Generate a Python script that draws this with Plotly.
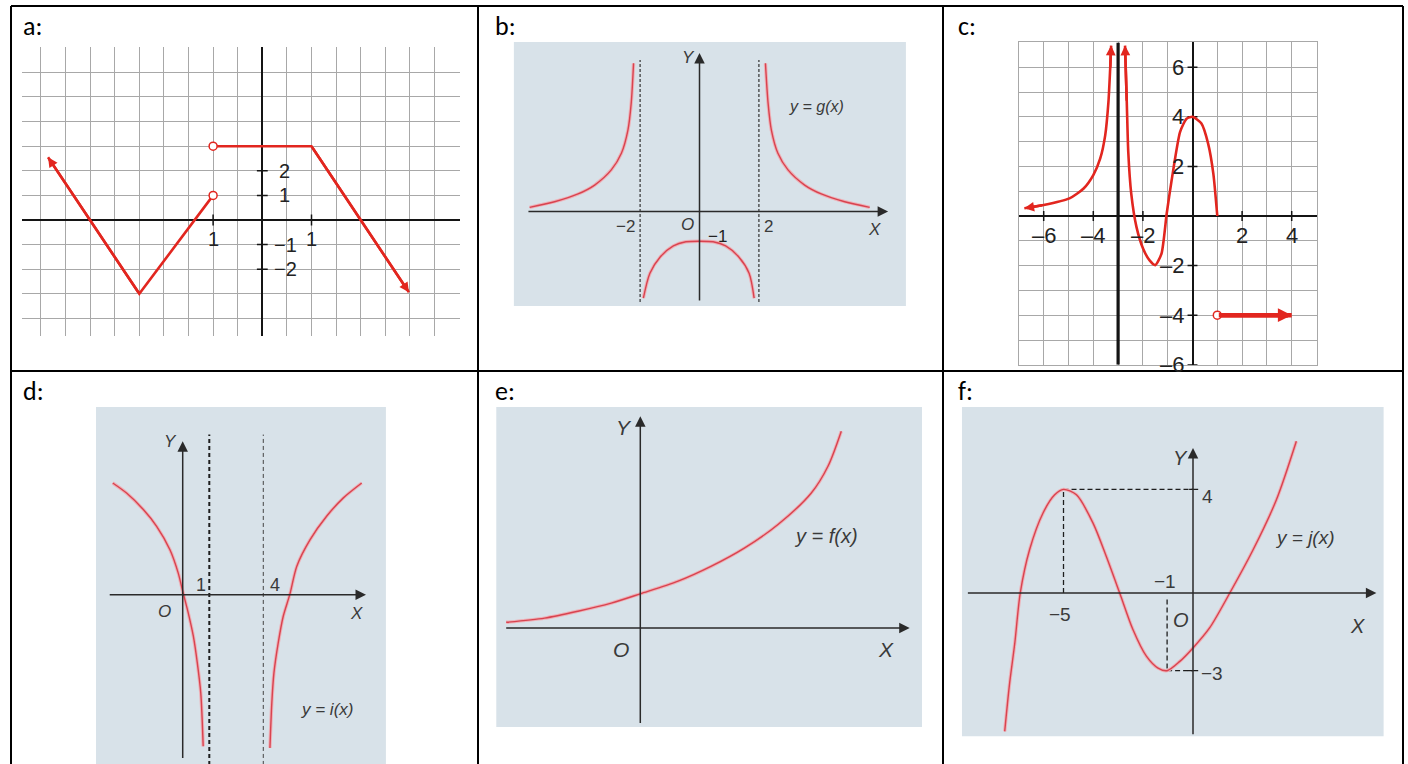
import plotly.graph_objects as go

W, H = 1408, 764

RED = "#e2261f"
CURVE = "#d8434f"
GLOW = "#eeb0b7"
INK = "#222222"
SOFT_INK = "#3a3a3a"
PANEL_BG = "#d8e2e9"
GRID = "#a8a8a8"

# ---------------- data ----------------
# a: piecewise linear, jump at x = -2
A_LEFT_X = [-8.71, -5, -2]
A_LEFT_Y = [2.55, -3, 1]
A_RIGHT_X = [-2, 2, 5.96]
A_RIGHT_Y = [3, 3, -2.94]
A_OPEN_X = [-2, -2]
A_OPEN_Y = [1, 3]
A_XTICKS = [-2, 2]
A_XTICK_TEXT = ["1", "1"]
A_YTICKS = [2, 1, -1, -2]
A_YTICK_TEXT = ["2", "1", "−1", "−2"]

# b: y = g(x)
B_LEFT_X = [-5.72, -4.88, -4.09, -3.53, -2.97, -2.63, -2.41, -2.30, -2.22]
B_LEFT_Y = [0.14, 0.33, 0.59, 0.89, 1.40, 1.96, 2.74, 3.64, 4.99]
B_MID_X = [-1.89, -1.67, -1.33, -0.88, -0.46, 0, 0.46, 0.88, 1.33, 1.67, 1.84]
B_MID_Y = [-2.92, -2.08, -1.54, -1.16, -1.02, -1.0, -1.02, -1.16, -1.54, -2.08, -2.92]
B_RIGHT_X = [2.22, 2.31, 2.42, 2.64, 2.98, 3.54, 4.10, 4.89, 5.73]
B_RIGHT_Y = [4.99, 3.64, 2.74, 1.96, 1.40, 0.89, 0.59, 0.33, 0.14]
B_ASYMPTOTES = [-2, 2]

# c: grid graph with a vertical asymptote at x = -3
C_LEFT_X = [-6.78, -6.0, -4.96, -4.39, -4.0, -3.72, -3.52, -3.39, -3.32, -3.28]
C_LEFT_Y = [0.31, 0.44, 0.71, 1.11, 1.65, 2.32, 3.25, 4.59, 5.93, 6.87]
C_MID_X = [-2.72, -2.65, -2.59, -2.47, -2.26, -1.99, -1.73, -1.5, -1.25, -1.04,
           -0.84, -0.5, -0.24, 0, 0.36, 0.63, 0.84, 1.0]
C_MID_Y = [6.87, 4.59, 2.58, 0.9, -0.44, -1.32, -1.79, -1.98, -1.52, 0.1,
           1.45, 3.39, 3.92, 4.0, 3.73, 2.92, 1.71, 0.0]
C_RAY_X = [1, 4]
C_RAY_Y = [-4, -4]
C_ASYMPTOTE = -3
C_XTICKS = [-6, -4, -2, 2, 4]
C_XTICK_TEXT = ["–6", "–4", "–2", "2", "4"]
C_YTICKS = [6, 4, 2, -2, -4, -6]
C_YTICK_TEXT = ["6", "4", "2", "–2", "–4", "–6"]

# d: y = i(x)
D_LEFT_X = [-2.63, -2.11, -1.48, -0.98, -0.48, -0.17, 0.0, 0.21, 0.40, 0.55, 0.68, 0.77]
D_LEFT_Y = [4.20, 3.82, 3.20, 2.57, 1.69, 0.82, 0.13, -0.69, -1.56, -2.57, -3.70, -5.70]
D_RIGHT_X = [6.73, 6.04, 5.41, 4.79, 4.29, 4.03, 3.78, 3.59, 3.43, 3.35, 3.28]
D_RIGHT_Y = [4.20, 3.64, 2.95, 2.07, 1.07, 0.02, -0.81, -1.82, -2.94, -4.07, -5.76]
D_ASYMPTOTES = [1, 3.03]
D_ASYMPTOTE_TEXT = ["1", "4"]

# e: y = f(x)
E_X = [-4.47, -3.19, -2.08, -0.97, 0, 1.26, 2.37, 3.48, 4.59, 5.7, 6.26, 6.7]
E_Y = [0.19, 0.33, 0.56, 0.83, 1.14, 1.56, 2.06, 2.67, 3.45, 4.5, 5.4, 6.56]

# f: y = j(x)
F_X = [-7.27, -7.08, -6.88, -6.67, -6.31, -5.79, -5.34, -5.0, -4.5, -3.86, -3.35, -2.83,
       -2.32, -1.80, -1.35, -1.0, -0.51, 0, 0.64, 1.42, 2.32, 3.22, 3.99]
F_Y = [-5.34, -3.48, -1.93, 0, 1.67, 3.09, 3.79, 4.0, 3.79, 2.70, 1.42, 0,
       -1.41, -2.44, -2.90, -3.0, -2.64, -2.12, -1.35, 0, 1.67, 3.60, 5.86]
F_MAX = (-5, 4)
F_MIN = (-1, -3)

# ---------------- panel geometry (pixels) ----------------
PANELS = {
    "a": dict(n=1, origin=(262.3, 220.0), unit=24.6, xr=(-9.76, 8.04), yr=(-4.72, 7.04)),
    "b": dict(n=2, origin=(699.5, 211.5), unit=29.7, xr=(-6.25, 6.95), yr=(-3.18, 5.71)),
    "c": dict(n=3, origin=(1192.5, 216.0), unit=24.8, xr=(-7, 5), yr=(-6, 7)),
    "d": dict(n=4, origin=(182.7, 594.7), unit=26.6, xr=(-3.26, 7.64), yr=(-6.36, 7.06)),
    "e": dict(n=5, origin=(640.3, 628.0), unit=30.0, xr=(-4.8, 9.39), yr=(-3.3, 7.37)),
    "f": dict(n=6, origin=(1193.0, 593.0), unit=25.9, xr=(-8.92, 7.36), yr=(-5.53, 7.18)),
}


def refs(key):
    n = PANELS[key]["n"]
    s = "" if n == 1 else str(n)
    return "x" + s, "y" + s


fig = go.Figure()
layout = dict(
    width=W, height=H, margin=dict(l=0, r=0, t=0, b=0),
    paper_bgcolor="white", plot_bgcolor="white", showlegend=False,
    shapes=[], annotations=[],
)

for key, p in PANELS.items():
    ox, oy = p["origin"]
    u = p["unit"]
    dx = [(ox + p["xr"][0] * u) / W, (ox + p["xr"][1] * u) / W]
    dy = [1 - (oy - p["yr"][0] * u) / H, 1 - (oy - p["yr"][1] * u) / H]
    xr, yr = refs(key)
    xname = "xaxis" + xr[1:]
    yname = "yaxis" + yr[1:]
    common = dict(fixedrange=True, showticklabels=False, ticks="")
    if key in ("a", "c"):
        grid = dict(showgrid=True, gridcolor=GRID, gridwidth=1, dtick=1, tick0=0,
                    zeroline=True, zerolinecolor="#141414", zerolinewidth=2.2,
                    showline=(key == "c"), mirror=True, linecolor=GRID, linewidth=1)
        layout[xname] = dict(domain=dx, range=list(p["xr"]), anchor=yr, **grid, **common)
        layout[yname] = dict(domain=dy, range=list(p["yr"]), anchor=xr, **grid, **common)
    else:
        layout[xname] = dict(domain=dx, range=list(p["xr"]), anchor=yr, visible=False, **common)
        layout[yname] = dict(domain=dy, range=list(p["yr"]), anchor=xr, visible=False, **common)
        layout["shapes"].append(dict(type="rect", xref=xr + " domain", yref=yr + " domain",
                                     x0=0, x1=1, y0=0, y1=1, fillcolor=PANEL_BG,
                                     line=dict(width=0), layer="below"))


def line_trace(key, xs, ys, color, width, shape="linear", smoothing=0.6):
    xr, yr = refs(key)
    fig.add_trace(go.Scatter(x=xs, y=ys, mode="lines", xaxis=xr, yaxis=yr,
                             line=dict(color=color, width=width, shape=shape, smoothing=smoothing),
                             hoverinfo="skip"))


def soft_curve(key, xs, ys, smoothing=0.8):
    line_trace(key, xs, ys, GLOW, 3.4, "spline", smoothing)
    line_trace(key, xs, ys, CURVE, 1.4, "spline", smoothing)


def arrow(key, tip, tail, color, width, size):
    xr, yr = refs(key)
    layout["annotations"].append(dict(
        x=tip[0], y=tip[1], ax=tail[0], ay=tail[1], xref=xr, yref=yr, axref=xr, ayref=yr,
        text="", showarrow=True, arrowhead=2, arrowsize=size, arrowwidth=width,
        arrowcolor=color, standoff=0, startstandoff=0))


def label(key, x, y, s, size, italic=False, xanchor="center", color=INK):
    xr, yr = refs(key)
    layout["annotations"].append(dict(
        x=x, y=y, xref=xr, yref=yr, text=f"<i>{s}</i>" if italic else s, showarrow=False,
        xanchor=xanchor, yanchor="middle",
        font=dict(family="Liberation Sans, Arial", size=size, color=color)))


def seg(key, x0, y0, x1, y1, color, width, dash=None):
    xr, yr = refs(key)
    layout["shapes"].append(dict(type="line", xref=xr, yref=yr, x0=x0, y0=y0, x1=x1, y1=y1,
                                 line=dict(color=color, width=width, dash=dash), layer="between"))


def axes_with_arrows(key, xspan, yspan):
    arrow(key, (xspan[1], 0), (xspan[0], 0), "#2a2a2a", 1.5, 1.4)
    arrow(key, (0, yspan[1]), (0, yspan[0]), "#2a2a2a", 1.5, 1.4)


# ---------- a ----------
for t in A_YTICKS:
    seg("a", -0.22, t, 0.22, t, "#141414", 1.5)
for t in A_XTICKS:
    seg("a", t, -0.22, t, 0.22, "#141414", 1.5)
line_trace("a", A_LEFT_X, A_LEFT_Y, RED, 2.6)
line_trace("a", A_RIGHT_X, A_RIGHT_Y, RED, 2.6)
arrow("a", (A_LEFT_X[0], A_LEFT_Y[0]), (A_LEFT_X[1], A_LEFT_Y[1]), RED, 2.6, 0.75)
arrow("a", (A_RIGHT_X[-1], A_RIGHT_Y[-1]), (A_RIGHT_X[-2], A_RIGHT_Y[-2]), RED, 2.6, 0.75)
fig.add_trace(go.Scatter(x=A_OPEN_X, y=A_OPEN_Y, mode="markers", xaxis="x", yaxis="y",
                         marker=dict(size=8, color="white", line=dict(color=RED, width=1.5)),
                         hoverinfo="skip"))
for t, s in zip(A_XTICKS, A_XTICK_TEXT):
    label("a", t, -0.78, s, 20)
for t, s in zip(A_YTICKS, A_YTICK_TEXT):
    label("a", 0.4 if t < 0 else 0.58, t, s, 20, xanchor="left")

# ---------- b ----------
for xa in B_ASYMPTOTES:
    seg("b", xa, -3.05, xa, 5.1, "#333333", 1.2, dash="3px,2px")
axes_with_arrows("b", (-5.81, 6.35), (-3.05, 5.34))
soft_curve("b", B_LEFT_X, B_LEFT_Y)
soft_curve("b", B_MID_X, B_MID_Y)
soft_curve("b", B_RIGHT_X, B_RIGHT_Y)
label("b", -0.38, 5.2, "Y", 17, True, color=SOFT_INK)
label("b", -0.41, -0.45, "O", 17, True, color=SOFT_INK)
label("b", 5.9, -0.62, "X", 17, True, color=SOFT_INK)
label("b", -2.5, -0.5, "−2", 17, color=SOFT_INK)
label("b", 2.34, -0.49, "2", 17, color=SOFT_INK)
label("b", 0.6, -0.84, "−1", 17, color=INK)
label("b", 3.93, 3.53, "y = g(x)", 16, True, color=SOFT_INK)

# ---------- c ----------
seg("c", C_ASYMPTOTE, -6, C_ASYMPTOTE, 7, "#141414", 3.2)
for t in C_XTICKS:
    seg("c", t, -0.2, t, 0.2, "#141414", 1.5)
for t in C_YTICKS:
    seg("c", -0.2, t, 0.2, t, "#141414", 1.5)
line_trace("c", C_LEFT_X, C_LEFT_Y, RED, 2.6, "spline")
line_trace("c", C_MID_X, C_MID_Y, RED, 2.6, "spline")
arrow("c", (C_LEFT_X[0], C_LEFT_Y[0]), (C_LEFT_X[1], C_LEFT_Y[1]), RED, 2.6, 0.75)
arrow("c", (C_LEFT_X[-1], C_LEFT_Y[-1]), (C_LEFT_X[-2], C_LEFT_Y[-2]), RED, 2.6, 0.75)
arrow("c", (C_MID_X[0], C_MID_Y[0]), (C_MID_X[1], C_MID_Y[1]), RED, 2.6, 0.75)
line_trace("c", C_RAY_X, C_RAY_Y, RED, 4.6)
arrow("c", (C_RAY_X[1], C_RAY_Y[1]), (C_RAY_X[0], C_RAY_Y[0]), RED, 4.6, 0.6)
fig.add_trace(go.Scatter(x=C_RAY_X[:1], y=C_RAY_Y[:1], mode="markers", xaxis="x3", yaxis="y3",
                         marker=dict(size=8, color="white", line=dict(color=RED, width=1.5)),
                         hoverinfo="skip"))
for t, s in zip(C_XTICKS, C_XTICK_TEXT):
    label("c", t, -0.78, s, 22)
for t, s in zip(C_YTICKS, C_YTICK_TEXT):
    label("c", -0.25, t, s, 22, xanchor="right")

# ---------- d ----------
seg("d", D_ASYMPTOTES[0], -6.4, D_ASYMPTOTES[0], 6.02, "#1e1e1e", 2.0, dash="4px,3px")
seg("d", D_ASYMPTOTES[1], -6.4, D_ASYMPTOTES[1], 6.02, "#444444", 1.0, dash="4px,3px")
axes_with_arrows("d", (-2.8, 6.89), (-6.2, 5.77))
soft_curve("d", D_LEFT_X, D_LEFT_Y)
soft_curve("d", D_RIGHT_X, D_RIGHT_Y)
label("d", D_ASYMPTOTES[0] - 0.3, 0.38, D_ASYMPTOTE_TEXT[0], 18, color=SOFT_INK)
label("d", D_ASYMPTOTES[1] + 0.45, 0.38, D_ASYMPTOTE_TEXT[1], 18, color=SOFT_INK)
label("d", -0.45, 5.77, "Y", 17, True, color=SOFT_INK)
label("d", -0.67, -0.62, "O", 17, True, color=SOFT_INK)
label("d", 6.54, -0.69, "X", 17, True, color=SOFT_INK)
label("d", 5.41, -4.3, "y = i(x)", 17, True, color=SOFT_INK)

# ---------- e ----------
axes_with_arrows("e", (-4.52, 8.98), (-3.22, 7.06))
soft_curve("e", E_X, E_Y)
label("e", -0.55, 6.67, "Y", 21, True, color=SOFT_INK)
label("e", -0.63, -0.72, "O", 21, True, color=SOFT_INK)
label("e", 8.2, -0.72, "X", 21, True, color=SOFT_INK)
label("e", 6.2, 3.06, "y = f(x)", 20, True, color=SOFT_INK)

# ---------- f ----------
seg("f", F_MAX[0], F_MAX[1], 0, F_MAX[1], "#1e1e1e", 1.3, dash="5px,3px")
seg("f", F_MAX[0], 0, F_MAX[0], F_MAX[1], "#1e1e1e", 1.3, dash="5px,3px")
seg("f", F_MIN[0], -0.25, F_MIN[0], F_MIN[1], "#1e1e1e", 1.3, dash="5px,3px")
seg("f", F_MIN[0], F_MIN[1], 0, F_MIN[1], "#1e1e1e", 1.3, dash="5px,3px")
seg("f", -0.15, F_MAX[1], 0.2, F_MAX[1], "#1e1e1e", 1.3)
seg("f", -0.2, F_MIN[1], 0.2, F_MIN[1], "#1e1e1e", 1.3)
axes_with_arrows("f", (-8.75, 7.08), (-5.51, 5.6))
soft_curve("f", F_X, F_Y)
label("f", -0.5, 5.21, "Y", 20, True, color=SOFT_INK)
label("f", 0.55, F_MAX[1] - 0.27, str(F_MAX[1]), 19, color=SOFT_INK)
label("f", 4.31, 2.16, "y = j(x)", 19, True, color=SOFT_INK)
label("f", F_MIN[0] - 0.09, 0.45, "−1", 19, color=SOFT_INK)
label("f", F_MAX[0] - 0.15, -0.84, "−5", 19, color=SOFT_INK)
label("f", -0.45, -1.05, "O", 20, True, color=SOFT_INK)
label("f", 6.37, -1.29, "X", 20, True, color=SOFT_INK)
label("f", 0.72, F_MIN[1] - 0.09, "−3", 19, color=SOFT_INK)

# ---------- table frame and panel letters ----------
def hline(y, x0, x1):
    layout["shapes"].append(dict(type="line", xref="paper", yref="paper", x0=x0 / W, x1=x1 / W,
                                 y0=1 - y / H, y1=1 - y / H, line=dict(color="black", width=2)))


def vline(x, y0, y1):
    layout["shapes"].append(dict(type="line", xref="paper", yref="paper", x0=x / W, x1=x / W,
                                 y0=1 - y0 / H, y1=1 - y1 / H, line=dict(color="black", width=2)))


hline(6, 11, 1403)
hline(371, 11, 1403)
for xv in (11, 478, 943, 1403):
    vline(xv, 6, 764)

for name, (lx, ly) in {"a": (21, 26), "b": (493, 26), "c": (956, 26),
                      "d": (21, 391), "e": (493, 391), "f": (956, 391)}.items():
    layout["annotations"].append(dict(
        x=lx / W, y=1 - ly / H, xref="paper", yref="paper", text=name + ":", showarrow=False,
        xanchor="left", yanchor="middle",
        font=dict(family="Carlito, Lato, Open Sans", size=26, color="black")))

fig.update_layout(**layout)
fig.write_html("out.html", config={"displayModeBar": False},
               post_script="document.body.style.margin = '0';")
